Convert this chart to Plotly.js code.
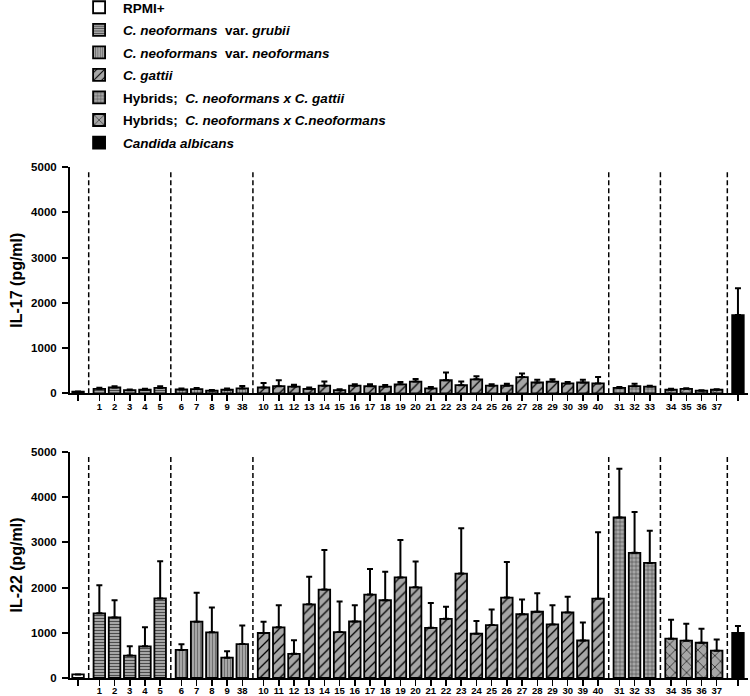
<!DOCTYPE html>
<html>
<head>
<meta charset="utf-8">
<script src="https://cdn.plot.ly/plotly-3.0.1.min.js"></script>
<style>html,body{margin:0;padding:0;background:#fff;}#chart{width:750px;height:696px;}</style>
</head>
<body>
<div id="chart"></div>
<script>
// ---- Data ----
const groupNames = [
  '<b>RPMI+</b>',
  '<b><i>C. neoformans</i>\u00a0 var. <i>grubii</i></b>',
  '<b><i>C. neoformans</i>\u00a0 var. <i>neoformans</i></b>',
  '<b><i>C. gattii</i></b>',
  '<b>Hybrids;\u00a0 <i>C. neoformans x C. gattii</i></b>',
  '<b>Hybrids;\u00a0 <i>C. neoformans x C.neoformans</i></b>',
  '<b><i>Candida albicans</i></b>'
];

const ctrlLabels    = [''];
const grubiiLabels  = ['1','2','3','4','5'];
const neoLabels     = ['6','7','8','9','38'];
const gattiiLabels  = ['10','11','12','13','14','15','16','17','18','19','20','21','22','23','24','25','26','27','28','29','30','39','40'];
const hybNGLabels   = ['31','32','33'];
const hybNNLabels   = ['34','35','36','37'];
const candidaLabels = [''];

// IL-17 (pg/ml): means and SD
const il17Ctrl    = [40];   const il17CtrlSd    = [0];
const il17Grubii  = [100,130,70,80,120];  const il17GrubiiSd = [25,30,15,20,40];
const il17Neo     = [85,95,60,80,110];    const il17NeoSd    = [20,25,15,25,55];
const il17Gattii  = [130,160,150,100,170,70,170,160,150,200,260,110,290,180,310,170,170,360,240,260,220,240,220];
const il17GattiiSd= [100,130,40,30,90,20,30,40,35,50,60,30,170,80,70,30,40,80,60,50,30,60,140];
const il17HybNG   = [120,160,150];        const il17HybNGSd  = [20,50,20];
const il17HybNN   = [80,100,60,80];       const il17HybNNSd  = [20,15,10,10];
const il17Candida = [1730];               const il17CandidaSd= [590];

// IL-22 (pg/ml): means and SD
const il22Ctrl    = [80];   const il22CtrlSd    = [0];
const il22Grubii  = [1430,1340,495,700,1760];  const il22GrubiiSd = [620,380,205,420,820];
const il22Neo     = [620,1245,1010,450,750];   const il22NeoSd    = [125,640,550,140,410];
const il22Gattii  = [995,1120,535,1630,1955,1015,1250,1845,1720,2225,2005,1110,1310,2310,980,1170,1780,1410,1465,1185,1450,830,1755];
const il22GattiiSd= [250,490,300,610,875,675,360,565,630,830,570,550,265,1000,280,345,785,325,410,425,350,400,1470];
const il22HybNG   = [3550,2770,2545];          const il22HybNGSd  = [1080,900,710];
const il22HybNN   = [870,825,780,605];         const il22HybNNSd  = [420,375,310,245];
const il22Candida = [995];                     const il22CandidaSd= [155];

// ---- Styles ----
const GRAY = '#a6a6a6';
const groupStyles = [
  {color:'#ffffff', pattern:{shape:''}},
  {color:GRAY, pattern:{shape:'-', fgcolor:'#4a4a4a', bgcolor:GRAY, size:3, solidity:0.35}},
  {color:GRAY, pattern:{shape:'|', fgcolor:'#6a6a6a', bgcolor:GRAY, size:3, solidity:0.3}},
  {color:GRAY, pattern:{shape:'/', fgcolor:'#000000', bgcolor:GRAY, size:7, solidity:0.18}},
  {color:GRAY, pattern:{shape:'+', fgcolor:'#333333', bgcolor:GRAY, size:4, solidity:0.22}},
  {color:GRAY, pattern:{shape:'x', fgcolor:'#000000', bgcolor:GRAY, size:8, solidity:0.15}},
  {color:'#000000', pattern:{shape:''}}
];

const labelsByGroup = [ctrlLabels, grubiiLabels, neoLabels, gattiiLabels, hybNGLabels, hybNNLabels, candidaLabels];
const il17ByGroup = [[il17Ctrl,il17CtrlSd],[il17Grubii,il17GrubiiSd],[il17Neo,il17NeoSd],[il17Gattii,il17GattiiSd],[il17HybNG,il17HybNGSd],[il17HybNN,il17HybNNSd],[il17Candida,il17CandidaSd]];
const il22ByGroup = [[il22Ctrl,il22CtrlSd],[il22Grubii,il22GrubiiSd],[il22Neo,il22NeoSd],[il22Gattii,il22GattiiSd],[il22HybNG,il22HybNGSd],[il22HybNN,il22HybNNSd],[il22Candida,il22CandidaSd]];

// positions: consecutive slots with a small extra gap between groups
const GROUP_GAP = 0.4;
const posByGroup = [];
let idx = 0;
labelsByGroup.forEach((labs, g) => {
  posByGroup.push(labs.map(() => { const p = idx + g*GROUP_GAP; idx++; return p; }));
});
const allPos = posByGroup.flat();
const allLabels = labelsByGroup.flat();

const traces = [];
function addTraces(dataByGroup, xa, ya, showLeg) {
  dataByGroup.forEach(([vals, sds], g) => {
    traces.push({
      type:'bar', x: posByGroup[g], y: vals, xaxis: xa, yaxis: ya,
      name: groupNames[g], showlegend: showLeg, legendgroup: 'g'+g,
      width: 0.76,
      marker: {color: groupStyles[g].color, pattern: groupStyles[g].pattern,
               line: {color:'#000', width:1.8}},
      error_y: {type:'data', symmetric:false, array: sds, arrayminus: sds.map(()=>0),
                visible: true, color:'#000', thickness:2, width:3},
      hoverinfo:'skip'
    });
  });
}
addTraces(il17ByGroup, 'x', 'y', true);
addTraces(il22ByGroup, 'x2', 'y2', false);

// dashed separators between groups
const shapes = [];
for (let g = 0; g < posByGroup.length - 1; g++) {
  const a = posByGroup[g][posByGroup[g].length-1], b = posByGroup[g+1][0];
  const xm = (a+b)/2;
  [['x','y'],['x2','y2']].forEach(([xr,yr]) => {
    shapes.push({type:'line', xref:xr, yref:yr, x0:xm, x1:xm, y0:0, y1:4940,
                 line:{color:'#000', width:1.5, dash:'5px,3px'}});
  });
}

const FONT = 'Liberation Sans, Arial, sans-serif';
const xrange = [-0.53, allPos[allPos.length-1] + 0.66];
function xaxisDef(anchor) {
  return {anchor: anchor, domain:[0,1], range: xrange, tickmode:'array', tickvals: allPos, ticktext: allLabels,
          ticks:'outside', ticklen:6, tickwidth:1.5, tickcolor:'#000', showline:true, linewidth:2, linecolor:'#000',
          showgrid:false, zeroline:false, automargin:false, ticklabelstandoff:-3,
          tickfont:{family:FONT, size:9.5, color:'#000', weight:'bold'}};
}
function yaxisDef(anchor, domain, title) {
  return {anchor: anchor, domain: domain, range:[0,5000], tickmode:'array', tickvals:[0,1000,2000,3000,4000,5000],
          ticks:'outside', ticklen:6, tickwidth:2, tickcolor:'#000', showline:true, linewidth:2, linecolor:'#000',
          showgrid:false, zeroline:false, automargin:false, ticklabelstandoff:3,
          tickfont:{family:FONT, size:11.5, color:'#000', weight:'bold'},
          title:{text: title, font:{family:FONT, size:16, color:'#000', weight:'bold'}, standoff:4}};
}

const layout = {
  width:750, height:696,
  margin:{l:70, r:2, t:167, b:18, autoexpand:false},
  paper_bgcolor:'#fff', plot_bgcolor:'#fff',
  barmode:'overlay',
  showlegend:true,
  legend:{x:0.0075, xanchor:'left', y:1.3425, yanchor:'top', traceorder:'grouped', tracegroupgap:2, itemwidth:38,
          font:{family:FONT, size:13.5, color:'#000'}, bgcolor:'rgba(0,0,0,0)', borderwidth:0},
  xaxis: xaxisDef('y'),
  xaxis2: xaxisDef('y2'),
  yaxis: yaxisDef('x', [0.557,1], '<b>IL-17 (pg/ml)</b>'),
  yaxis2: yaxisDef('x2', [0,0.4423], '<b>IL-22 (pg/ml)</b>'),
  shapes: shapes
};

Plotly.newPlot('chart', traces, layout, {displayModeBar:false, staticPlot:true});
</script>
</body>
</html>
